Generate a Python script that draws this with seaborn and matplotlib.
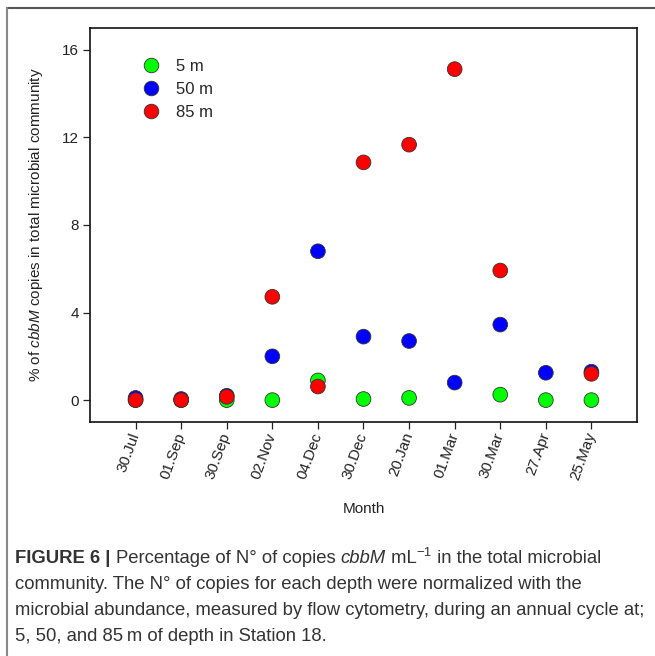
import matplotlib
matplotlib.use("Agg")
import matplotlib.pyplot as plt
import seaborn as sns
import numpy as np
import pandas as pd
from matplotlib.lines import Line2D

sns.set_theme(style="white")
plt.rcParams['font.family'] = ['Liberation Sans', 'DejaVu Sans']
plt.rcParams['mathtext.fontset'] = 'custom'
plt.rcParams['mathtext.rm'] = 'Liberation Sans'
plt.rcParams['mathtext.it'] = 'Liberation Sans:italic'

# ---- data ----
months = ["30.Jul", "01.Sep", "30.Sep", "02.Nov", "04.Dec", "30.Dec",
          "20.Jan", "01.Mar", "30.Mar", "27.Apr", "25.May"]
depths = ["5 m", "50 m", "85 m"]
v5 = [0.0, 0.0, 0.0, 0.0, 0.9, 0.05, 0.1, np.nan, 0.25, 0.0, 0.0]
v50 = [0.1, 0.05, 0.2, 2.0, 6.8, 2.9, 2.7, 0.8, 3.45, 1.25, 1.3]
v85 = [0.0, 0.0, 0.15, 4.72, 0.62, 10.86, 11.67, 15.12, 5.92, np.nan, 1.2]
colors = ["#00ff00", "#0000ff", "#ff0000"]
yticks = [0, 4, 8, 12, 16]

df = pd.DataFrame({
    "Month": pd.Categorical(months * 3, categories=months, ordered=True),
    "Value": v5 + v50 + v85,
    "Depth": [depths[0]] * len(months) + [depths[1]] * len(months) + [depths[2]] * len(months),
}).dropna()

W, H = 655, 656
fig = plt.figure(figsize=(W / 100, H / 100), dpi=100)
ax = fig.add_axes([90 / W, 1 - 422 / H, (637 - 90) / W, (422 - 28) / H])

sns.scatterplot(data=df, x="Month", y="Value", hue="Depth", hue_order=depths,
                palette=dict(zip(depths, colors)), s=112, edgecolor="#333333",
                linewidth=0.6, ax=ax, legend=False, zorder=3)

ax.set_xlim(-1, len(months))
ax.set_ylim(-1, 17)
ax.set_yticks(yticks)
ax.set_yticklabels([str(t) for t in yticks], fontsize=11, color="#222222")
ax.set_xticks(range(len(months)))
ax.set_xticklabels(months, rotation=70, ha="right", va="center",
                   rotation_mode="anchor", fontsize=11, color="#222222")
ax.tick_params(axis="both", which="major", direction="out", length=5, width=0.9,
               pad=3, color="#222222", bottom=True, left=True)
for sp in ax.spines.values():
    sp.set_color("#111111")
    sp.set_linewidth(1.2)

ax.set_xlabel("Month", fontsize=11, color="#222222")
ax.xaxis.set_label_coords(0.5, -0.203)
ax.set_ylabel(r"% of $\mathit{cbbM}$ copies in total microbial community",
              fontsize=11, color="#222222")
ax.yaxis.set_label_coords(-0.083, 0.5)

handles = [Line2D([], [], ls="", marker="o", markersize=10.5, markerfacecolor=c,
                  markeredgecolor="#333333", markeredgewidth=0.6) for c in colors]
ax.legend(handles, depths, loc="upper left", bbox_to_anchor=(0.096, 0.922),
          frameon=False, borderaxespad=0, borderpad=0, handlelength=1.0,
          handletextpad=1.0, labelspacing=0.48, fontsize=12)

# frame lines of the figure panel
fig.add_artist(Line2D([7 / W, 1], [1 - 8 / H, 1 - 8 / H], color="#555555", lw=1.5,
                      transform=fig.transFigure))
fig.add_artist(Line2D([7 / W, 7 / W], [0, 1 - 8 / H], color="#888888", lw=1.5,
                      transform=fig.transFigure))

# caption
cap_family = ['Liberation Sans Narrow', 'Liberation Sans', 'DejaVu Sans']
fs = 13.3
fig.canvas.draw()
renderer = fig.canvas.get_renderer()


def put_line(pieces, y, x0=15):
    x = x0
    for txt, kw in pieces:
        t = fig.text(x / W, 1 - (y - kw.get("dy", 0)) / H, txt,
                     fontsize=kw.get("size", fs),
                     fontweight=kw.get("weight", "normal"),
                     fontstyle=kw.get("style", "normal"),
                     family=cap_family, color="#333333", va="baseline", ha="left")
        bb = t.get_window_extent(renderer=renderer)
        x += bb.width


put_line([("FIGURE 6 | ", {"weight": "bold"}),
          ("Percentage of N\u00b0 of copies ", {}),
          ("cbbM", {"style": "italic"}),
          (" mL", {}),
          ("\u22121", {"size": 9.5, "dy": 7}),
          (" in the total microbial", {})], 563)
put_line([("community. The N\u00b0 of copies for each depth were normalized with the", {})], 589)
put_line([("microbial abundance, measured by flow cytometry, during an annual cycle at;", {})], 615)
put_line([("5, 50, and 85\u2009m of depth in Station 18.", {})], 641)

fig.savefig("out.png", dpi=100)
